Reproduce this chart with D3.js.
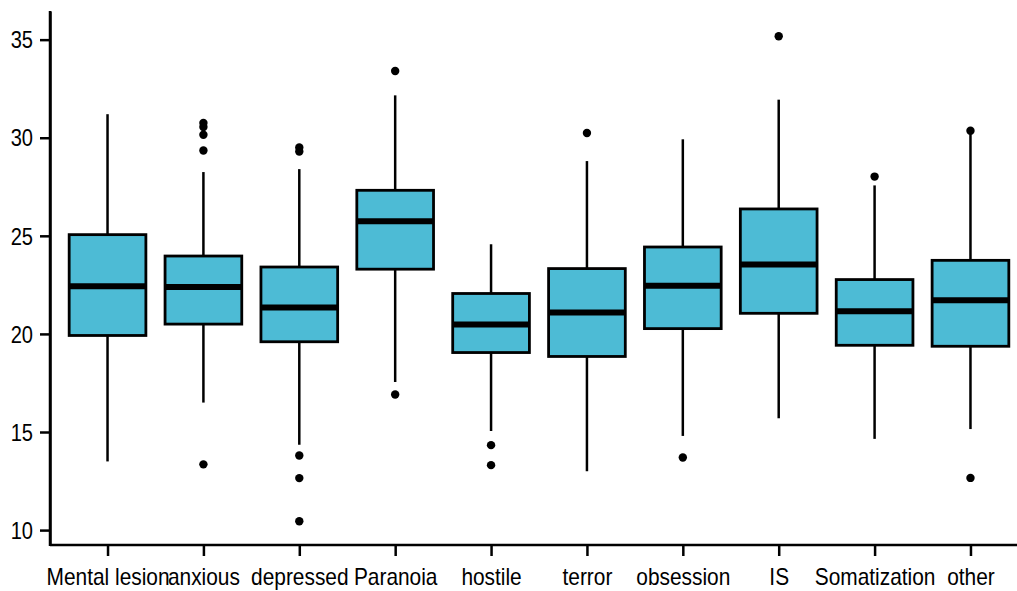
<!DOCTYPE html>
<html>
<head>
<meta charset="utf-8">
<script src="https://cdn.jsdelivr.net/npm/d3@7"></script>
<style>
body { margin: 0; background: #fff; }
svg { display: block; }
text { font-family: "Liberation Sans", Arial, sans-serif; fill: #000; }
</style>
</head>
<body>
<svg id="chart" width="1017" height="591"></svg>
<script>
const categories = ["Mental lesion", "anxious", "depressed", "Paranoia", "hostile", "terror", "obsession", "IS", "Somatization", "other"];
const whiskerLow = [13.5, 16.5, 14.35, 17.55, 15.05, 13.0, 14.8, 15.7, 14.65, 15.15];
const q1 =         [19.92, 20.5, 19.6, 23.3, 19.05, 18.85, 20.27, 21.05, 19.42, 19.37];
const median =     [22.43, 22.39, 21.34, 25.74, 20.48, 21.09, 22.45, 23.54, 21.16, 21.72];
const q3 =         [25.06, 23.97, 23.41, 27.32, 22.06, 23.33, 24.43, 26.37, 22.77, 23.75];
const whiskerHigh = [31.2, 28.25, 28.4, 32.16, 24.57, 28.81, 29.92, 31.94, 27.57, 30.2];
const outliers = [
  [],
  [30.75, 30.55, 30.15, 29.35, 13.35],
  [29.5, 29.3, 13.8, 12.65, 10.45],
  [33.4, 16.91],
  [14.33, 13.31],
  [30.24],
  [13.7],
  [35.17],
  [28.02],
  [30.36, 12.66]
];
const yTicks = [10, 15, 20, 25, 30, 35];

const svg = d3.select("#chart");
const fill = "#4DBBD5";
const yTextScaleX = 0.82;
const xTextScaleX = 0.87;

const x = d3.scalePoint().domain(categories).range([50, 1028]).padding(0.6);
const y = d3.scaleLinear().domain([9.24, 36.46]).range([545, 11]);
const boxW = x.step() * 0.8;

const data = categories.map((c, i) => ({
  cat: c, lo: whiskerLow[i], q1: q1[i], med: median[i], q3: q3[i], hi: whiskerHigh[i], out: outliers[i]
}));

const g = svg.append("g");

// whiskers
g.selectAll("line.wh-up").data(data).enter().append("line")
  .attr("x1", d => x(d.cat)).attr("x2", d => x(d.cat))
  .attr("y1", d => y(d.q3)).attr("y2", d => y(d.hi))
  .attr("stroke", "#000").attr("stroke-width", 2.5);
g.selectAll("line.wh-lo").data(data).enter().append("line")
  .attr("x1", d => x(d.cat)).attr("x2", d => x(d.cat))
  .attr("y1", d => y(d.q1)).attr("y2", d => y(d.lo))
  .attr("stroke", "#000").attr("stroke-width", 2.5);

// boxes
g.selectAll("rect.box").data(data).enter().append("rect")
  .attr("x", d => x(d.cat) - boxW / 2)
  .attr("width", boxW)
  .attr("y", d => y(d.q3))
  .attr("height", d => y(d.q1) - y(d.q3))
  .attr("fill", fill).attr("stroke", "#000").attr("stroke-width", 2.8);

// medians
g.selectAll("line.med").data(data).enter().append("line")
  .attr("x1", d => x(d.cat) - boxW / 2).attr("x2", d => x(d.cat) + boxW / 2)
  .attr("y1", d => y(d.med)).attr("y2", d => y(d.med))
  .attr("stroke", "#000").attr("stroke-width", 6);

// outliers
const outPts = [];
data.forEach(d => d.out.forEach(v => outPts.push({ cat: d.cat, v })));
g.selectAll("circle.out").data(outPts).enter().append("circle")
  .attr("cx", d => x(d.cat)).attr("cy", d => y(d.v)).attr("r", 4.2).attr("fill", "#000");

// axes
const yAxis = d3.axisLeft(y).tickValues(yTicks).tickSize(10).tickSizeOuter(0).tickPadding(7);
const yg = svg.append("g").attr("transform", "translate(50,0)").call(yAxis);
yg.select(".domain").attr("stroke-width", 2.5);
yg.selectAll(".tick line").attr("stroke-width", 2.5);
yg.selectAll(".tick text")
  .style("font-size", "24.5px")
  .attr("dy", null)
  .attr("dominant-baseline", "central")
  .attr("transform", function() {
    const xx = +d3.select(this).attr("x");
    d3.select(this).attr("x", 0);
    return `translate(${xx},0) scale(${yTextScaleX},1)`;
  });

const xAxis = d3.axisBottom(x).tickSize(11).tickSizeOuter(0).tickPadding(0);
const xg = svg.append("g").attr("transform", "translate(0,545)").call(xAxis);
xg.select(".domain").attr("stroke-width", 2.5).attr("d", "M50,0H1017");
xg.selectAll(".tick line").attr("stroke-width", 2.5);
xg.selectAll(".tick text")
  .style("font-size", "24px")
  .attr("y", 0).attr("dy", null)
  .attr("transform", `translate(0,40) scale(${xTextScaleX},1)`);

// ensure y axis domain meets x axis
svg.append("line").attr("x1", 50).attr("x2", 50).attr("y1", 11).attr("y2", 546)
  .attr("stroke", "#000").attr("stroke-width", 2.5);
</script>
</body>
</html>
